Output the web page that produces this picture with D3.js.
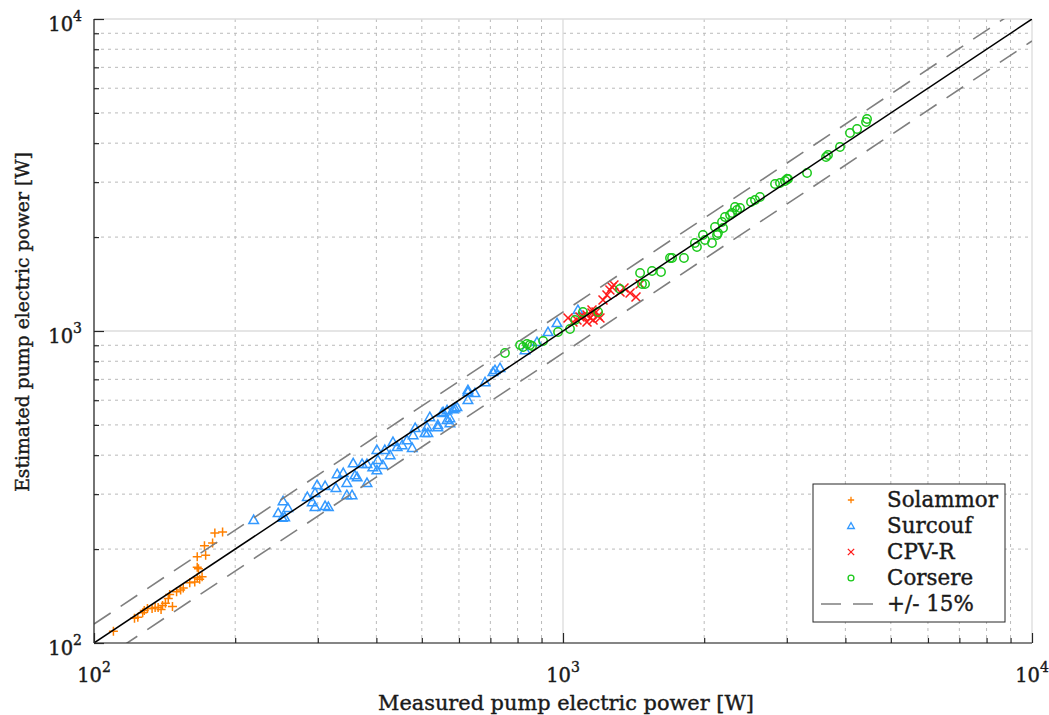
<!DOCTYPE html>
<html>
<head>
<meta charset="utf-8">
<script src="https://cdn.jsdelivr.net/npm/d3@7"></script>
<style>
  html, body { margin: 0; padding: 0; background: #fff; }
  svg { display: block; }
  text { font-family: "DejaVu Serif", "Liberation Serif", serif; fill: #1a1a1a; stroke: #1a1a1a; stroke-width: 0.4px; }
</style>
</head>
<body>
<svg id="chart" width="1049" height="715"></svg>
<script>
// ---------------- data ----------------
const seriesNames = ["Solammor", "Surcouf", "CPV-R", "Corsere"];
const bandLabel = "+/- 15%";
const bandFactors = [1.15, 0.85];
const xTitle = "Measured pump electric power [W]";
const yTitle = "Estimated pump electric power [W]";
const majorTicks = [100, 1000, 10000];
const majorExponents = ["2", "3", "4"];

const solammorX = [110,122,124,127,128,130,133,135,137,140,142,144,145,150,153,160,164,166,170,167,166,166,173,172,179,181,188,139,147,155,168];
const solammorY = [109,120,121,125,127,129,129,130,130,132,134,139,143,146,148,156,157,162,163,173,175,189,191,205,209,225,227,128,131,150,160];

const surcoufX = [219,253,259,247,255,252,285,292,296,311,316,296,299,311,328,330,340,346,360,364,346,355,382,357,373,382,401,403,401,413,417,393,434,443,454,428,477,465,479,484,513,508,515,541,566,574,520,555,583,594,627,627,649,541,552,566,574,588,627,682,709,716,734,929,971,830,880,1076];
const surcoufY = [248,285,271,261,253,252,294,283,273,275,273,303,321,319,314,348,351,326,345,340,298,298,326,377,375,375,416,386,358,372,416,366,441,425,431,400,422,447,464,489,492,471,471,492,519,507,530,550,562,571,601,638,633,500,546,558,526,566,647,686,739,750,761,993,1061,869,922,1168];

const cpvX = [1025,1050,1071,1087,1103,1125,1125,1142,1153,1159,1176,1188,1199,1153,1217,1241,1259,1272,1284,1323,1349,1390,1431,1460];
const cpvY = [1101,1069,1085,1109,1117,1125,1069,1101,1142,1085,1151,1117,1101,1168,1257,1304,1353,1384,1404,1334,1373,1324,1285,1415];

const corsereX = [752,810,822,838,850,859,907,976,1035,1061,1103,1188,1323,1474,1496,1460,1548,1618,1691,1708,1811,1911,1930,1988,2008,2078,2109,2130,2140,2194,2183,2215,2271,2293,2327,2350,2385,2517,2567,2630,2832,2902,2974,3004,3018,3314,3638,3673,3896,4092,4236,4427,4449];
const corsereY = [850,902,889,909,902,895,929,993,1015,1085,1151,1151,1363,1415,1415,1534,1557,1545,1714,1714,1714,1915,1859,2031,1957,1915,2154,2031,2061,2138,2236,2320,2354,2389,2497,2442,2479,2591,2630,2688,2959,2981,3026,3071,3071,3210,3613,3666,3888,4311,4441,4677,4782];

const colors = {"Solammor": "#ff8000", "Surcouf": "#3399ff", "CPV-R": "#ff1a1a", "Corsere": "#19c819"};

// ---------------- layout ----------------
const svg = d3.select("#chart");
const L = 94, R = 1032, T = 19, B = 643;
const x = d3.scaleLog().domain([100, 10000]).range([L, R]);
const y = d3.scaleLog().domain([100, 10000]).range([B, T]);

// scale a text element's font so its width equals target
function fitText(sel, target, base) {
  sel.style("font-size", base + "px");
  const w = sel.node().getComputedTextLength();
  const fs = w > 0 ? base * target / w : base;
  sel.style("font-size", fs + "px");
  return fs;
}

const minorTicks = [];
for (let e = 2; e < 4; e++) for (let m = 2; m <= 9; m++) minorTicks.push(m * Math.pow(10, e));

// grid
const grid = svg.append("g");
grid.selectAll(".mx").data(minorTicks).join("line")
  .attr("x1", d => x(d)).attr("x2", d => x(d)).attr("y1", T).attr("y2", B)
  .attr("stroke", "#bababa").attr("stroke-width", 1).attr("stroke-dasharray", "3,4");
grid.selectAll(".my").data(minorTicks).join("line")
  .attr("y1", d => y(d)).attr("y2", d => y(d)).attr("x1", L).attr("x2", R)
  .attr("stroke", "#bababa").attr("stroke-width", 1).attr("stroke-dasharray", "3,4");
grid.selectAll(".Mx").data(majorTicks).join("line")
  .attr("x1", d => x(d)).attr("x2", d => x(d)).attr("y1", T).attr("y2", B)
  .attr("stroke", "#dcdcdc").attr("stroke-width", 1.3);
grid.selectAll(".My").data(majorTicks).join("line")
  .attr("y1", d => y(d)).attr("y2", d => y(d)).attr("x1", L).attr("x2", R)
  .attr("stroke", "#dcdcdc").attr("stroke-width", 1.3);

// clip
svg.append("clipPath").attr("id", "clip").append("rect")
  .attr("x", L).attr("y", T).attr("width", R - L).attr("height", B - T);

// markers
const symbols = {
  "Solammor": s => `M${-4.5*s},0H${4.5*s}M0,${-4.5*s}V${4.5*s}`,
  "Surcouf": s => `M0,${-4.8*s}L${4.8*s},${3.6*s}L${-4.8*s},${3.6*s}Z`,
  "CPV-R": s => `M${-4.5*s},${-4.5*s}L${4.5*s},${4.5*s}M${-4.5*s},${4.5*s}L${4.5*s},${-4.5*s}`,
  "Corsere": s => `M${4.2*s},0A${4.2*s},${4.2*s} 0 1 1 ${-4.2*s},0A${4.2*s},${4.2*s} 0 1 1 ${4.2*s},0Z`
};
const seriesData = {
  "Solammor": d3.zip(solammorX, solammorY),
  "Surcouf": d3.zip(surcoufX, surcoufY),
  "CPV-R": d3.zip(cpvX, cpvY),
  "Corsere": d3.zip(corsereX, corsereY)
};
const pts = svg.append("g").attr("clip-path", "url(#clip)");
seriesNames.forEach(name => {
  pts.append("g").selectAll("path").data(seriesData[name]).join("path")
    .attr("transform", d => `translate(${x(d[0])},${y(d[1])})`)
    .attr("d", symbols[name](1))
    .attr("fill", "none").attr("stroke", colors[name]).attr("stroke-width", 1.5);
});

// reference lines
const lines = svg.append("g").attr("clip-path", "url(#clip)");
const lineGen = d3.line().x(d => x(d[0])).y(d => y(d[1]));
bandFactors.forEach(f => {
  lines.append("path").attr("d", lineGen([[100, 100 * f], [10000, 10000 * f]]))
    .attr("fill", "none").attr("stroke", "#7f7f7f").attr("stroke-width", 1.6)
    .attr("stroke-dasharray", "20,12");
});
lines.append("path").attr("d", lineGen([[100, 100], [10000, 10000]]))
  .attr("fill", "none").attr("stroke", "#000").attr("stroke-width", 1.5);

// axes
const allTicks = majorTicks.concat(minorTicks);
const isMajor = d => majorTicks.includes(d);
const yAxis = svg.append("g").attr("transform", `translate(${L},0)`)
  .call(d3.axisLeft(y).tickValues(allTicks).tickFormat("").tickSizeOuter(0).tickSizeInner(-1));
yAxis.selectAll(".tick line").attr("x2", d => isMajor(d) ? 10 : 5).attr("stroke", "#262626").attr("stroke-width", 1.2);
yAxis.select(".domain").attr("stroke", "#262626").attr("stroke-width", 1.2).attr("d", `M0,${T}V${B}`);
const xAxis = svg.append("g").attr("transform", `translate(0,${B})`)
  .call(d3.axisBottom(x).tickValues(allTicks).tickFormat("").tickSizeOuter(0).tickSizeInner(-1));
xAxis.selectAll(".tick line").attr("y2", d => isMajor(d) ? -10 : -5).attr("stroke", "#262626").attr("stroke-width", 1.2);
xAxis.select(".domain").attr("stroke", "#262626").attr("stroke-width", 1.2).attr("d", `M${L},0H${R}`);

// tick labels
majorTicks.forEach((v, i) => {
  const ty = svg.append("text").attr("text-anchor", "end")
    .attr("x", L - 12).attr("y", y(v) + 12).style("font-size", "19.5px");
  ty.append("tspan").text("10");
  ty.append("tspan").text(majorExponents[i]).attr("dy", -10).style("font-size", "14px");
  const tx = svg.append("text").attr("text-anchor", "middle")
    .attr("x", x(v)).attr("y", B + 39).style("font-size", "19.5px");
  tx.append("tspan").text("10");
  tx.append("tspan").text(majorExponents[i]).attr("dy", -10).style("font-size", "14px");
});

// axis titles
const xt = svg.append("text").attr("text-anchor", "middle").attr("x", 566).attr("y", 710).text(xTitle);
fitText(xt, 376, 19);
const yt = svg.append("text").attr("text-anchor", "middle")
  .attr("transform", `translate(29,322) rotate(-90)`).text(yTitle);
fitText(yt, 340, 19);

// legend
const lg = svg.append("g");
lg.append("rect").attr("x", 813).attr("y", 484).attr("width", 192).attr("height", 138)
  .attr("fill", "#fff").attr("stroke", "#262626").attr("stroke-width", 1);
const rowY = i => 500 + i * 26;
const legTexts = [];
seriesNames.forEach((name, i) => {
  lg.append("path").attr("transform", `translate(851,${rowY(i)})`)
    .attr("d", symbols[name](0.7)).attr("fill", "none")
    .attr("stroke", colors[name]).attr("stroke-width", 1.3);
  legTexts.push(lg.append("text").attr("x", 887).attr("y", rowY(i) + 7).text(name));
});
lg.append("line").attr("x1", 821).attr("x2", 873).attr("y1", rowY(4)).attr("y2", rowY(4))
  .attr("stroke", "#7f7f7f").attr("stroke-width", 1.6).attr("stroke-dasharray", "20,12");
legTexts.push(lg.append("text").attr("x", 887).attr("y", rowY(4) + 7).text(bandLabel));
const legFs = fitText(legTexts[0], 111, 19);
legTexts.forEach(t => t.style("font-size", legFs + "px"));
</script>
</body>
</html>
